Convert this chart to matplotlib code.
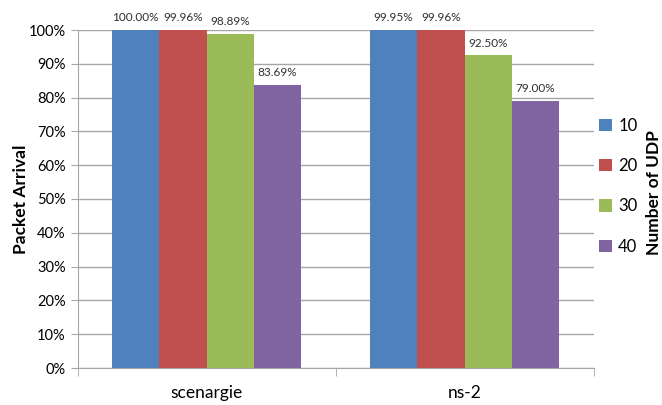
import numpy as np
import matplotlib
matplotlib.use('agg')
import matplotlib.pyplot as plt
from matplotlib.ticker import PercentFormatter

plt.rcParams['font.family'] = ['Lato', 'DejaVu Sans']

categories = ['scenargie', 'ns-2']
series_names = ['10', '20', '30', '40']
values = {
    '10': [100.00, 99.95],
    '20': [99.96, 99.96],
    '30': [98.89, 92.50],
    '40': [83.69, 79.00],
}
colors = ['#4F81BD', '#C0504D', '#9BBB59', '#8064A2']

fig = plt.figure(figsize=(6.62, 4.05), dpi=100)
ax = fig.add_axes([77.5 / 662, 37 / 405, 516 / 662, 338 / 405])

x = np.arange(len(categories))
w = 0.1835
handles = []
for i, name in enumerate(series_names):
    pos = x + (i - 1.5) * w
    b = ax.bar(pos, values[name], width=w, color=colors[i], zorder=3)
    handles.append(b)
    for px, v in zip(pos, values[name]):
        ax.text(px, v + 2.0, '%.2f%%' % v, ha='center', va='bottom',
                fontsize=8.5, color='#303030')

ax.set_xlim(-0.5, 1.5)
ax.set_ylim(0, 100)
ax.set_yticks(np.arange(0, 101, 10))
ax.yaxis.set_major_formatter(PercentFormatter(decimals=0))
ax.grid(axis='y', color='#a6a6a6', linewidth=1, zorder=0)

ax.set_xticks([0, 1])
ax.set_xticklabels(categories, fontsize=12.5)
ax.set_xticks([-0.5, 0.5, 1.5], minor=True)
ax.tick_params(axis='x', which='major', length=0, pad=12)
ax.tick_params(axis='x', which='minor', length=6, color='#a6a6a6')
ax.tick_params(axis='y', length=5, color='#a6a6a6', labelsize=10.5)

for s in ['top', 'right']:
    ax.spines[s].set_visible(False)
for s in ['left', 'bottom']:
    ax.spines[s].set_color('#a6a6a6')

ax.set_ylabel('Packet Arrival', fontsize=12.5, fontweight='bold', va='center')
ax.yaxis.set_label_coords(-0.11, 0.5)

leg = fig.legend(handles, series_names, loc='upper left',
                 bbox_to_anchor=(584 / 662, 1 - 103 / 405), frameon=False,
                 fontsize=12, handlelength=0.75, handleheight=0.75,
                 labelspacing=1.45, handletextpad=0.4)

fig.text(654 / 662, 1 - 193 / 405, 'Number of UDP', rotation=90,
         ha='center', va='center', fontsize=12.5, fontweight='bold')

fig.savefig('out.png', dpi=100)
